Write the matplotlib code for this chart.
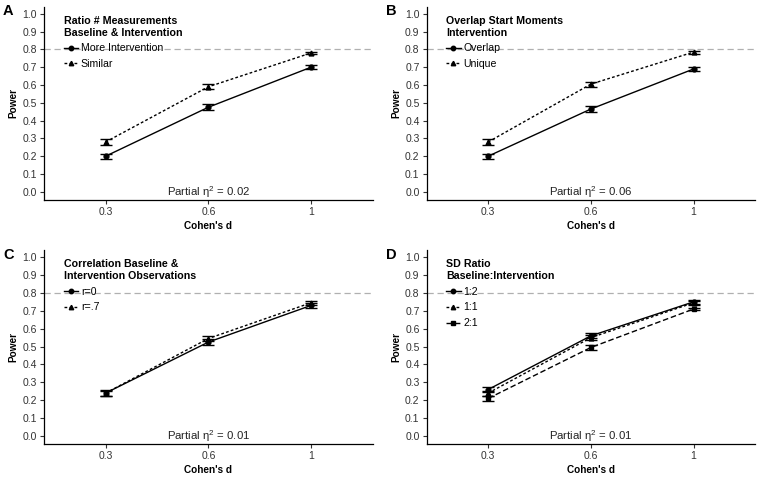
import matplotlib.pyplot as plt
from matplotlib.lines import Line2D
import numpy as np

plt.rcParams['font.family'] = ['Liberation Sans', 'DejaVu Sans']
plt.rcParams['mathtext.fontset'] = 'custom'
plt.rcParams['mathtext.rm'] = 'Liberation Sans'
plt.rcParams['mathtext.it'] = 'Liberation Sans'

# Data
cohens_d = ['0.3', '0.6', '1']

a_title = 'Ratio # Measurements\nBaseline & Intervention'
a_labels = ['More Intervention', 'Similar']
a_power = [[0.200, 0.475, 0.700], [0.280, 0.590, 0.780]]
a_err = [[0.014, 0.016, 0.010], [0.015, 0.014, 0.008]]
a_eta = '0.02'

b_title = 'Overlap Start Moments\nIntervention'
b_labels = ['Overlap', 'Unique']
b_power = [[0.200, 0.465, 0.690], [0.280, 0.605, 0.785]]
b_err = [[0.015, 0.016, 0.012], [0.015, 0.014, 0.008]]
b_eta = '0.06'

c_title = 'Correlation Baseline &\nIntervention Observations'
c_labels = ['r=0', 'r=.7']
c_power = [[0.240, 0.525, 0.730], [0.240, 0.545, 0.745]]
c_err = [[0.016, 0.016, 0.012], [0.014, 0.014, 0.010]]
c_eta = '0.01'

d_title = 'SD Ratio\nBaseline:Intervention'
d_labels = ['1:2', '1:1', '2:1']
d_power = [[0.260, 0.560, 0.750], [0.240, 0.550, 0.745], [0.210, 0.495, 0.710]]
d_err = [[0.015, 0.014, 0.010], [0.014, 0.014, 0.010], [0.012, 0.012, 0.008]]
d_eta = '0.01'

styles = [('-', 'o'), ((0, (2, 1.6)), '^'), ((0, (4, 2)), 's')]

fig = plt.figure(figsize=(7.59, 4.78), dpi=100)

panels = [
    ('A', [0.058, 0.582, 0.433, 0.404], a_title, a_labels, a_power, a_err, a_eta),
    ('B', [0.562, 0.582, 0.433, 0.404], b_title, b_labels, b_power, b_err, b_eta),
    ('C', [0.058, 0.071, 0.433, 0.406], c_title, c_labels, c_power, c_err, c_eta),
    ('D', [0.562, 0.071, 0.433, 0.406], d_title, d_labels, d_power, d_err, d_eta),
]

for letter, pos, title, labels, power, err, eta in panels:
    ax = fig.add_axes(pos)
    x = np.arange(1, len(cohens_d) + 1)
    ax.axhline(0.8, color='#b0b0b0', ls=(0, (5, 3)), lw=0.9, zorder=0)
    handles = []
    for i, (lab, vals, e) in enumerate(zip(labels, power, err)):
        ls, mk = styles[i]
        ax.errorbar(x, vals, yerr=e, color='black', ls=ls, lw=1.0,
                    marker=mk, ms=3.5, capsize=4.5, capthick=1.0,
                    elinewidth=1.0)
        handles.append(Line2D([], [], color='black', ls=ls, lw=1.0,
                              marker=mk, ms=3.2, label=lab))
    ax.set_xlim(0.4, 3.6)
    ax.set_ylim(-0.045, 1.04)
    ax.set_xticks(x)
    ax.set_xticklabels(cohens_d)
    ax.set_yticks(np.arange(0, 1.01, 0.1))
    ax.set_yticklabels([f'{v:.1f}' for v in np.arange(0, 1.01, 0.1)])
    ax.tick_params(labelsize=7.5, length=3, width=0.8, colors='#333333',
                   labelcolor='#333333', pad=2)
    for s in ['top', 'right']:
        ax.spines[s].set_visible(False)
    for s in ['left', 'bottom']:
        ax.spines[s].set_linewidth(0.9)
    ax.set_xlabel("Cohen's d", fontsize=7.2, fontweight='bold', labelpad=3)
    ax.set_ylabel('Power', fontsize=7.2, fontweight='bold', labelpad=3)
    ax.text(2, 0.0, 'Partial η$^2$ = ' + eta, ha='center', va='center',
            fontsize=8.2, color='#222222')
    ax.legend(handles=handles, loc='upper left', bbox_to_anchor=(0.04, 0.985),
              frameon=False, title=title, fontsize=7.6, handlelength=1.4,
              handletextpad=0.25, labelspacing=0.55, borderaxespad=0.2,
              title_fontproperties={'weight': 'bold', 'size': 7.7},
              alignment='left')
    fig.text(pos[0] - 0.054, pos[1] + pos[3] - 0.01, letter,
             fontsize=10.5, fontweight='bold', ha='left', va='center')

fig.savefig('out.png', dpi=100, facecolor='white')
